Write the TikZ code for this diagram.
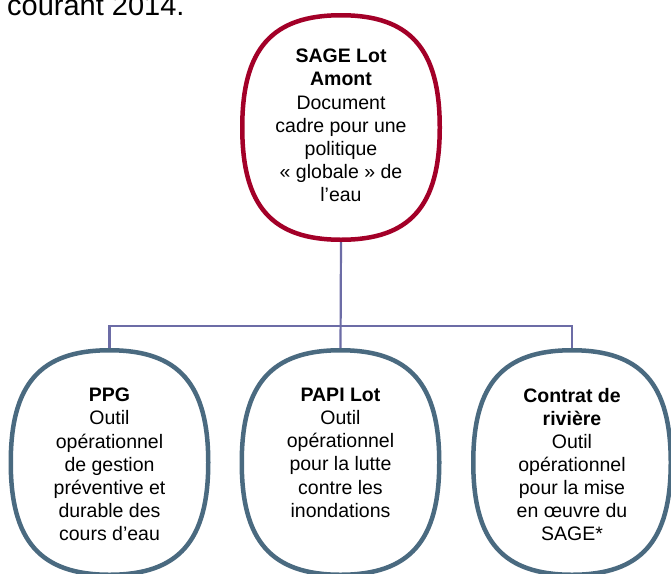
\documentclass[tikz,border=0pt]{standalone}
\usepackage{fontspec}
\setmainfont{Liberation Sans}
\usetikzlibrary{calc}
\definecolor{topred}{RGB}{163,0,40}
\definecolor{slateblue}{RGB}{74,106,128}
\definecolor{connpurple}{RGB}{108,108,166}
\newcommand\kap{0.7}
\newcommand\ovalborder[2]{%
  \filldraw[#2] (#1.east)
    .. controls ($(#1.east)!\kap!(#1.south east)$) and ($(#1.south)!\kap!(#1.south east)$) .. (#1.south)
    .. controls ($(#1.south)!\kap!(#1.south west)$) and ($(#1.west)!\kap!(#1.south west)$) .. (#1.west)
    .. controls ($(#1.west)!\kap!(#1.north west)$) and ($(#1.north)!\kap!(#1.north west)$) .. (#1.north)
    .. controls ($(#1.north)!\kap!(#1.north east)$) and ($(#1.east)!\kap!(#1.north east)$) .. (#1.east) -- cycle;}
\tikzset{
  blob/.style={rectangle, minimum width=197.5pt, minimum height=224.5pt, inner sep=0pt, outer sep=0pt},
  redborder/.style={draw=topred, fill=white, line width=4.5pt},
  blueborder/.style={draw=slateblue, fill=white, line width=4.5pt},
  conn/.style={draw=connpurple, line width=2.2pt},
  txt/.style={align=center, inner sep=0pt, font=\fontsize{19.5}{23.1}\selectfont, anchor=north},
}
\begin{document}
\begin{tikzpicture}[x=1pt,y=-1pt]
\clip (0,0) rectangle (671,573);
\fill[white] (0,0) rectangle (671,573);
\node[anchor=base west, inner sep=0pt, font=\fontsize{29}{34}\selectfont] (head) at (7,15) {courant 2014.};
% shape nodes
\node[blob] (top) at (341,127.5) {};
\node[blob] (ppg) at (109.5,462.5) {};
\node[blob] (papi) at (340.5,462.5) {};
\node[blob] (contrat) at (572,462.5) {};
\coordinate (bus) at (341,326);
% connectors
\draw[conn] (top.south) -- (papi.north);
\draw[conn] (ppg.north) -- (ppg.north |- bus) -- (contrat.north |- bus) -- (contrat.north);
% borders
\ovalborder{top}{redborder}
\ovalborder{ppg}{blueborder}
\ovalborder{papi}{blueborder}
\ovalborder{contrat}{blueborder}
% texts
\node[txt] (topt) at (341,49) {\textbf{SAGE Lot}\\\textbf{Amont}\\Document\\cadre pour une\\politique\\« globale » de\\l’eau};
\node[txt] (ppgt) at (109.5,388) {\textbf{PPG}\\Outil\\opérationnel\\de gestion\\préventive et\\durable des\\cours d’eau};
\node[txt] (papit) at (340.5,388) {\textbf{PAPI Lot}\\Outil\\opérationnel\\pour la lutte\\contre les\\inondations};
\node[txt] (contratt) at (572,388) {\textbf{Contrat de}\\\textbf{rivière}\\Outil\\opérationnel\\pour la mise\\en œuvre du\\SAGE*};
\end{tikzpicture}
\end{document}
